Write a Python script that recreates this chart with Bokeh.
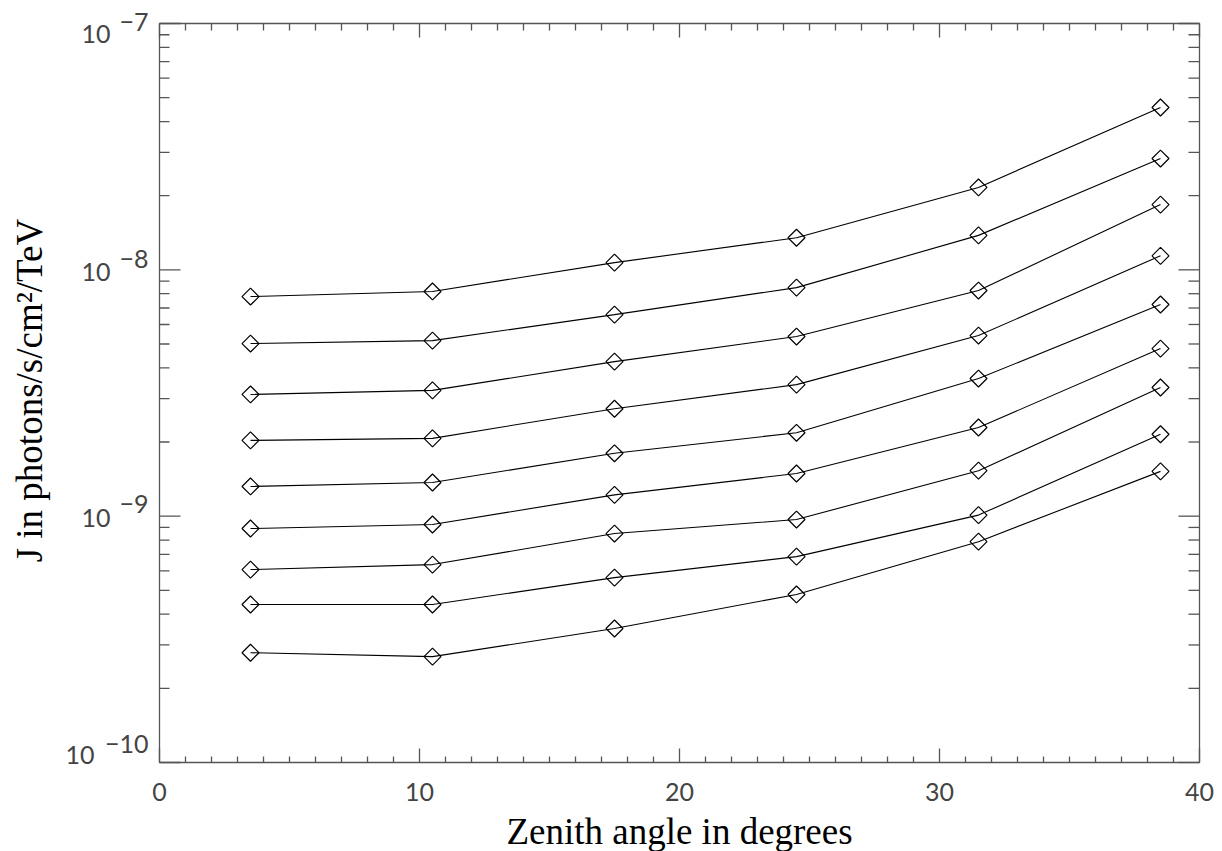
import math
from bokeh.plotting import figure
from bokeh.models import Range1d
from bokeh.core.properties import value
from bokeh.embed import file_html
from bokeh.resources import INLINE

# ---------------- data ----------------
zenith_deg = [3.5, 10.5, 17.5, 24.5, 31.5, 38.5]

flux_1 = [7.79e-9, 8.17e-9, 1.07e-8, 1.35e-8, 2.16e-8, 4.56e-8]
flux_2 = [5.02e-9, 5.16e-9, 6.58e-9, 8.47e-9, 1.38e-8, 2.83e-8]
flux_3 = [3.12e-9, 3.24e-9, 4.24e-9, 5.36e-9, 8.24e-9, 1.84e-8]
flux_4 = [2.03e-9, 2.07e-9, 2.73e-9, 3.42e-9, 5.41e-9, 1.14e-8]
flux_5 = [1.32e-9, 1.37e-9, 1.80e-9, 2.18e-9, 3.62e-9, 7.23e-9]
flux_6 = [8.91e-10, 9.25e-10, 1.22e-9, 1.49e-9, 2.29e-9, 4.79e-9]
flux_7 = [6.07e-10, 6.36e-10, 8.50e-10, 9.69e-10, 1.53e-9, 3.33e-9]
flux_8 = [4.38e-10, 4.38e-10, 5.63e-10, 6.85e-10, 1.01e-9, 2.15e-9]
flux_9 = [2.79e-10, 2.69e-10, 3.50e-10, 4.81e-10, 7.88e-10, 1.52e-9]

x_major_ticks = [0, 10, 20, 30, 40]
x_minor_ticks = [t for t in range(0, 41) if t % 10 != 0]
x_tick_labels = ["0", "10", "20", "30", "40"]
y_decades = [-7, -8, -9, -10]
y_minor_ticks = [k * 10.0 ** e for e in (-10, -9, -8) for k in range(2, 10)]

x_title = "Zenith angle in degrees"
y_title = "J in photons/s/cm\u00b2/TeV"

all_series = [flux_1, flux_2, flux_3, flux_4, flux_5, flux_6, flux_7, flux_8, flux_9]

# ---------------- layout ----------------
W, H = 1222, 851
F_LEFT, F_RIGHT, F_TOP, F_BOTTOM = 159, 1199, 23, 762   # axis box in canvas px
X0, X1 = 0.0, 40.0
E0, E1 = -10.0, -7.0                                     # log10 of y limits
Y0, Y1 = 10 ** E0, 10 ** E1

px_x = (F_RIGHT - F_LEFT) / (X1 - X0)
px_dec = (F_BOTTOM - F_TOP) / (E1 - E0)
x_start = X0 - F_LEFT / px_x
x_end = X1 + (W - F_RIGHT) / px_x
y_start = 10 ** (E0 - (H - F_BOTTOM) / px_dec)
y_end = 10 ** (E1 + F_TOP / px_dec)

AX = "#555555"
TXT = "#444444"
TICK_FONT = value("Lato")
TITLE_FONT = value("Liberation Serif")

p = figure(width=W, height=H,
           x_range=Range1d(x_start, x_end), y_range=Range1d(y_start, y_end),
           y_axis_type="log", output_backend="svg", toolbar_location=None,
           min_border=0)
p.axis.visible = False
p.grid.visible = False
p.outline_line_color = None
p.background_fill_color = "white"
p.border_fill_color = "white"

# ---------------- axis box and inward ticks ----------------
p.line([X0, X1, X1, X0, X0], [Y0, Y0, Y1, Y1, Y0], line_color=AX, line_width=1.3)
tk = dict(line_color=AX, line_width=1.3, length_units="screen")
# bottom / top
p.ray(x=x_major_ticks, y=[Y0] * 5, length=14, angle=math.pi / 2, **tk)
p.ray(x=x_minor_ticks, y=[Y0] * len(x_minor_ticks), length=6, angle=math.pi / 2, **tk)
p.ray(x=x_major_ticks, y=[Y1] * 5, length=14, angle=-math.pi / 2, **tk)
p.ray(x=x_minor_ticks, y=[Y1] * len(x_minor_ticks), length=7, angle=-math.pi / 2, **tk)
# left / right
y_major_vals = [10.0 ** e for e in y_decades]
p.ray(x=[X0] * 4, y=y_major_vals, length=21, angle=0, **tk)
p.ray(x=[X0] * len(y_minor_ticks), y=y_minor_ticks, length=10, angle=0, **tk)
p.ray(x=[X1] * 4, y=y_major_vals, length=21, angle=math.pi, **tk)
p.ray(x=[X1] * len(y_minor_ticks), y=y_minor_ticks, length=11, angle=math.pi, **tk)

# ---------------- series ----------------
for s in all_series:
    p.line(zenith_deg, s, line_color="black", line_width=1.1)
    p.scatter(zenith_deg, s, marker="square", size=12, angle=math.pi / 4,
              fill_alpha=0, line_color="black", line_width=1.2)

# ---------------- x tick labels ----------------
p.text(x=x_major_ticks, y=[Y0] * 5, text=x_tick_labels, y_offset=20,
       text_align="center", text_baseline="top",
       text_font=TICK_FONT, text_font_size="25px", text_color=TXT)

# ---------------- y tick labels 10^-n ----------------
# per decade: (base baseline px below tick, superscript baseline px below tick)
ylab_pos = {-7: (10, -2), -8: (2, -11), -9: (2, -12), -10: (-8, -19)}
sup_txt = ["\u2212" + str(-e) for e in y_decades]
sup_dy = [ylab_pos[e][1] for e in y_decades]
base_dy = [ylab_pos[e][0] for e in y_decades]
base_dx = [-49 if len(s) == 2 else -65 for s in sup_txt]
p.text(x=[X0] * 4, y=y_major_vals, text=sup_txt, x_offset=-11, y_offset=sup_dy,
       text_align="right", text_baseline="alphabetic",
       text_font=TICK_FONT, text_font_size="25px", text_color=TXT)
p.text(x=[X0] * 4, y=y_major_vals, text=["10"] * 4, x_offset=base_dx, y_offset=base_dy,
       text_align="right", text_baseline="alphabetic",
       text_font=TICK_FONT, text_font_size="25px", text_color=TXT)

# ---------------- axis titles ----------------
p.text(x=[(X0 + X1) / 2], y=[Y0], text=[x_title], y_offset=69,
       text_align="center", text_baseline="alphabetic",
       text_font=TITLE_FONT, text_font_size="37px", text_color="black")
p.text(x=[X0], y=[10 ** -8.49], text=[y_title], x_offset=-130, angle=math.pi / 2,
       text_align="center", text_baseline="alphabetic",
       text_font=TITLE_FONT, text_font_size="37px", text_color="black")

open("out.html", "w").write(file_html(p, INLINE))
